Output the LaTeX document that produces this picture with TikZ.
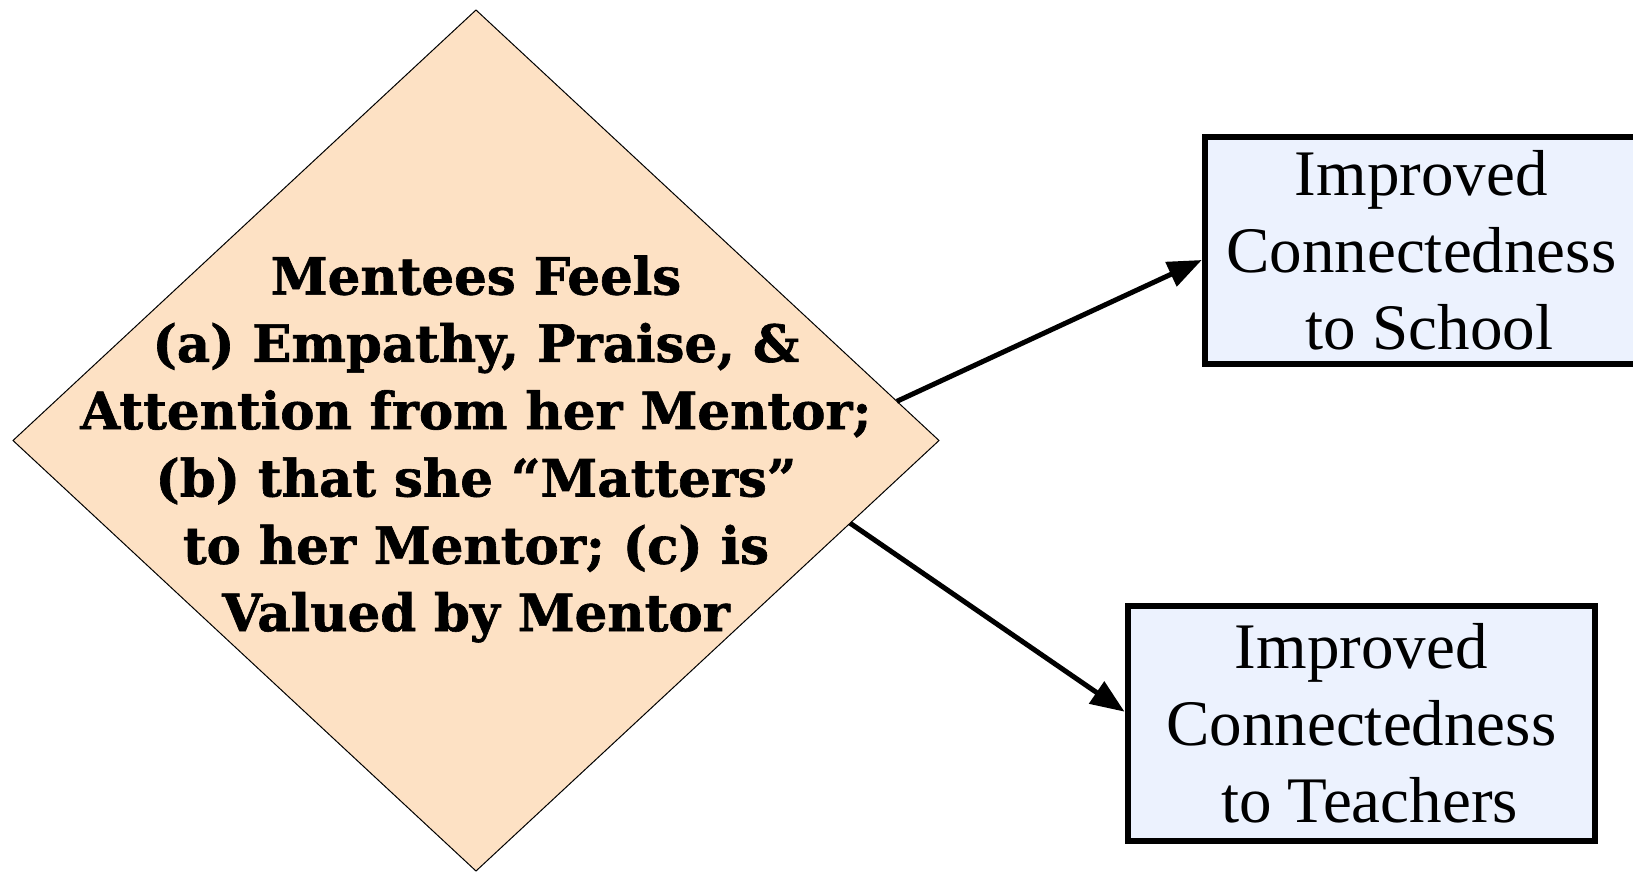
\documentclass[tikz,border=0pt]{standalone}
\usepackage{fontspec}
\setmainfont{Liberation Serif}
\newfontfamily\headfont[BoldFeatures={FakeBold=1.2}]{DejaVu Serif}
\usetikzlibrary{shapes.geometric,arrows.meta,calc}
\definecolor{peach}{RGB}{253,225,196}
\definecolor{paleblue}{RGB}{236,242,254}
\tikzset{
  decision/.style={diamond, draw=black, line width=1pt, fill=peach,
    inner sep=0pt, outer sep=0pt},
  decisiontext/.style={align=center, inner sep=0pt,
    font=\headfont\bfseries\fontsize{51.4}{67.3}\selectfont},
  outcome/.style={rectangle, draw=black, line width=6pt, fill=paleblue,
    inner sep=0pt, outer sep=0pt, align=center,
    font=\fontsize{65}{77}\selectfont},
  link/.style={line width=5pt, -{Triangle[length=34pt,width=26pt]}}
}
\begin{document}
\begin{tikzpicture}[x=1pt,y=-1pt]
  \useasboundingbox (0,0) rectangle (1633,873);
  % central diamond and its wording
  \node[decision, minimum width=926pt, minimum height=861pt] (feel) at (476,440.5) {};
  \node[decisiontext] (feeltext) at (476,449) {Mentees Feels\\(a) Empathy, Praise, \&\\Attention from her Mentor;\\(b) that she “Matters”\\to her Mentor; (c) is\\Valued by Mentor};
  % outcome boxes
  \node[outcome, minimum width=433pt, minimum height=226.7pt] (school) at (1421.3,250.3) {Improved\\Connectedness\\\ to School};
  \node[outcome, minimum width=467.5pt, minimum height=235pt] (teach) at (1361.3,723.5) {Improved\\Connectedness\\\ to Teachers};
  % connectors
  \coordinate (s1) at ($(feel.north)!0.909!(feel.east)$);
  \coordinate (s2) at ($(feel.east)!0.192!(feel.south)$);
  \coordinate (e1) at ($(school.west)+(-3,9.7)$);
  \coordinate (e2) at ($(teach.west)+(-3,-11.8)$);
  \draw[link] (s1) -- (e1);
  \draw[link] (s2) -- (e2);
\end{tikzpicture}
\end{document}
